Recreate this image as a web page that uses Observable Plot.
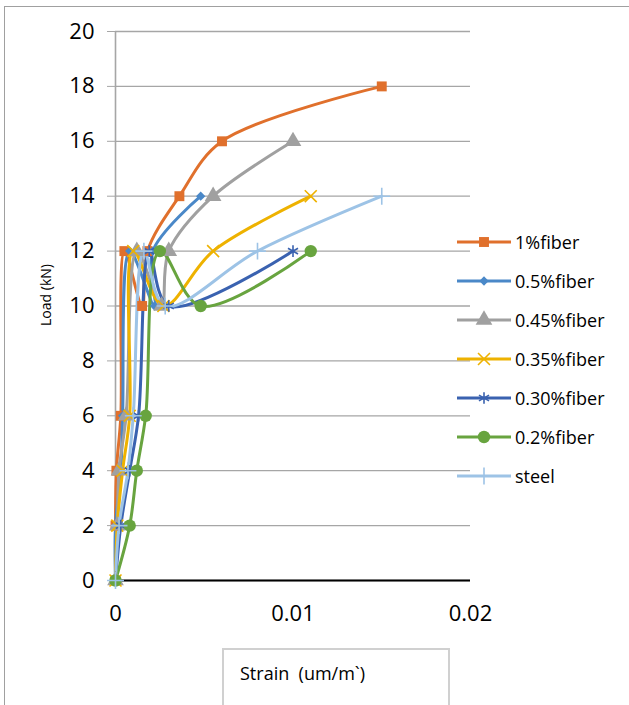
<!DOCTYPE html>
<html><head><meta charset="utf-8">
<script src="https://cdn.jsdelivr.net/npm/d3@7"></script>
<script src="https://cdn.jsdelivr.net/npm/@observablehq/plot@0.6"></script>
<style>
body{margin:0;background:#fff;}
#wrap{position:relative;width:629px;height:705px;overflow:hidden;font-family:"Open Sans",sans-serif;background:#fff;}
#wrap svg.plot{position:absolute;left:0;top:0;}
.frame{position:absolute;left:4px;top:6px;width:700px;height:800px;border:1.5px solid #a0a0a0;box-sizing:border-box;}
.ylab{position:absolute;left:45px;top:295px;transform:translate(-50%,-50%) rotate(-90deg);font-size:14px;white-space:nowrap;color:#000;}
.xbox{position:absolute;left:222px;top:648px;width:228px;height:80px;border:2px solid #d0d0d0;box-sizing:border-box;background:#fff;}
.xbox span{position:absolute;left:16px;top:11px;font-size:18px;white-space:pre;color:#000;}
.leg{position:absolute;left:455px;height:24px;display:flex;align-items:center;font-size:18px;color:#000;white-space:nowrap;}
.leg svg{margin-right:2px;}
</style></head><body><div id="wrap"><div class="frame"></div></div>
<script>
const seriesNames = ["1%fiber","0.5%fiber","0.45%fiber","0.35%fiber","0.30%fiber","0.2%fiber","steel"];
const seriesColors = ["#E0702C","#4A88C8","#A0A0A0","#EEB200","#3A62B0","#68A43F","#9DC3E6"];
const seriesSymbols = ["square","diamond2","triangle","times","asterisk","circle","plus"];

const strain_1 = [0, 0, 0.00005, 0.0003, 0.0005, 0.0015, 0.0018, 0.0036, 0.006, 0.015];
const load_1   = [0, 2, 4, 6, 12, 10, 12, 14, 16, 18];
const strain_05 = [0, 0, 0.0003, 0.0004, 0.0008, 0.0022, 0.0021, 0.0048];
const load_05   = [0, 2, 4, 6, 12, 10, 12, 14];
const strain_045 = [0, 0.0001, 0.0002, 0.0006, 0.0012, 0.0026, 0.003, 0.0055, 0.01];
const load_045   = [0, 2, 4, 6, 12, 10, 12, 14, 16];
const strain_035 = [0, 0.0001, 0.0004, 0.0008, 0.001, 0.0027, 0.0055, 0.011];
const load_035   = [0, 2, 4, 6, 12, 10, 12, 14];
const strain_030 = [0, 0.0003, 0.0008, 0.0013, 0.0019, 0.003, 0.01];
const load_030   = [0, 2, 4, 6, 12, 10, 12];
const strain_02 = [0, 0.0008, 0.0012, 0.0017, 0.0025, 0.0048, 0.011];
const load_02   = [0, 2, 4, 6, 12, 10, 12];
const strain_steel = [0, 0.0002, 0.0007, 0.001, 0.0016, 0.0028, 0.008, 0.015];
const load_steel   = [0, 2, 4, 6, 12, 10, 12, 14];

const yTicks = [0,2,4,6,8,10,12,14,16,18,20];
const xTicks = [0, 0.01, 0.02];
const xTickLabels = ["0","0.01","0.02"];

const strainSets = [strain_1, strain_05, strain_045, strain_035, strain_030, strain_02, strain_steel];
const loadSets = [load_1, load_05, load_045, load_035, load_030, load_02, load_steel];

const strokeSyms = new Set(["times","asterisk","plus"]);
const symR = {square:5.6, diamond2:4.2, triangle:6.2, times:5.5, asterisk:5.5, circle:6.2, plus:5.5};

const marks = [
  Plot.gridY(yTicks, {stroke:"#A6A6A6", strokeOpacity:1, strokeWidth:1.3}),
  Plot.axisY(yTicks, {tickSize:8, tickPadding:13, stroke:"#A6A6A6", fontSize:22, label:null}),
  Plot.axisX(xTicks, {tickSize:0, tickPadding:25, fontSize:22, label:null, tickFormat:(d)=>xTickLabels[xTicks.indexOf(d)]}),
  Plot.ruleX([0], {stroke:"#A6A6A6", strokeWidth:1.6}),
  Plot.ruleY([0], {stroke:"#000", strokeWidth:2})
];
seriesNames.forEach((name,i)=>{
  const data = strainSets[i].map((s,j)=>({strain:s, load:loadSets[i][j]}));
  marks.push(Plot.line(data, {x:"strain", y:"load", stroke:seriesColors[i], strokeWidth:3, curve:"catmull-rom"}));
});
seriesNames.forEach((name,i)=>{
  const data = strainSets[i].map((s,j)=>({strain:s, load:loadSets[i][j]}));
  const sym = seriesSymbols[i];
  const isStroke = strokeSyms.has(sym);
  marks.push(Plot.dot(data, {x:"strain", y:"load", symbol:()=>sym, r:symR[sym],
    fill: isStroke ? "none" : seriesColors[i], stroke: isStroke ? seriesColors[i] : "none", strokeWidth: isStroke ? 1.6 : 0}));
});

const chart = Plot.plot({
  width:629, height:705,
  marginLeft:115, marginRight:159, marginTop:31, marginBottom:125,
  style:{background:"transparent", fontFamily:"Open Sans, sans-serif", color:"#000"},
  x:{domain:[0,0.02]},
  y:{domain:[0,20]},
  symbol:{type:"identity"},
  marks
});
chart.classList.add("plot");
const wrap = document.getElementById("wrap");
wrap.appendChild(chart);

const yl = document.createElement("div"); yl.className="ylab"; yl.textContent="Load (kN)"; wrap.appendChild(yl);
const xb = document.createElement("div"); xb.className="xbox"; xb.innerHTML="<span>Strain  (um/m`)</span>"; wrap.appendChild(xb);

const symMap = {square:d3.symbolSquare, diamond2:d3.symbolDiamond2, triangle:d3.symbolTriangle, times:d3.symbolTimes, asterisk:d3.symbolAsterisk, circle:d3.symbolCircle, plus:d3.symbolPlus};
seriesNames.forEach((name,i)=>{
  const d = document.createElement("div"); d.className="leg"; d.style.top=(242+39*i-12)+"px";
  const sym = seriesSymbols[i]; const isStroke = strokeSyms.has(sym);
  const r = symR[sym]; const size = Math.PI*r*r;
  const path = d3.symbol(symMap[sym], size)();
  d.innerHTML = `<svg width="58" height="24"><line x1="2" x2="56" y1="12" y2="12" stroke="${seriesColors[i]}" stroke-width="3"/><path transform="translate(29,12)" d="${path}" fill="${isStroke?'none':seriesColors[i]}" stroke="${isStroke?seriesColors[i]:'none'}" stroke-width="1.6"/></svg><span>${name}</span>`;
  wrap.appendChild(d);
});
</script></body></html>
